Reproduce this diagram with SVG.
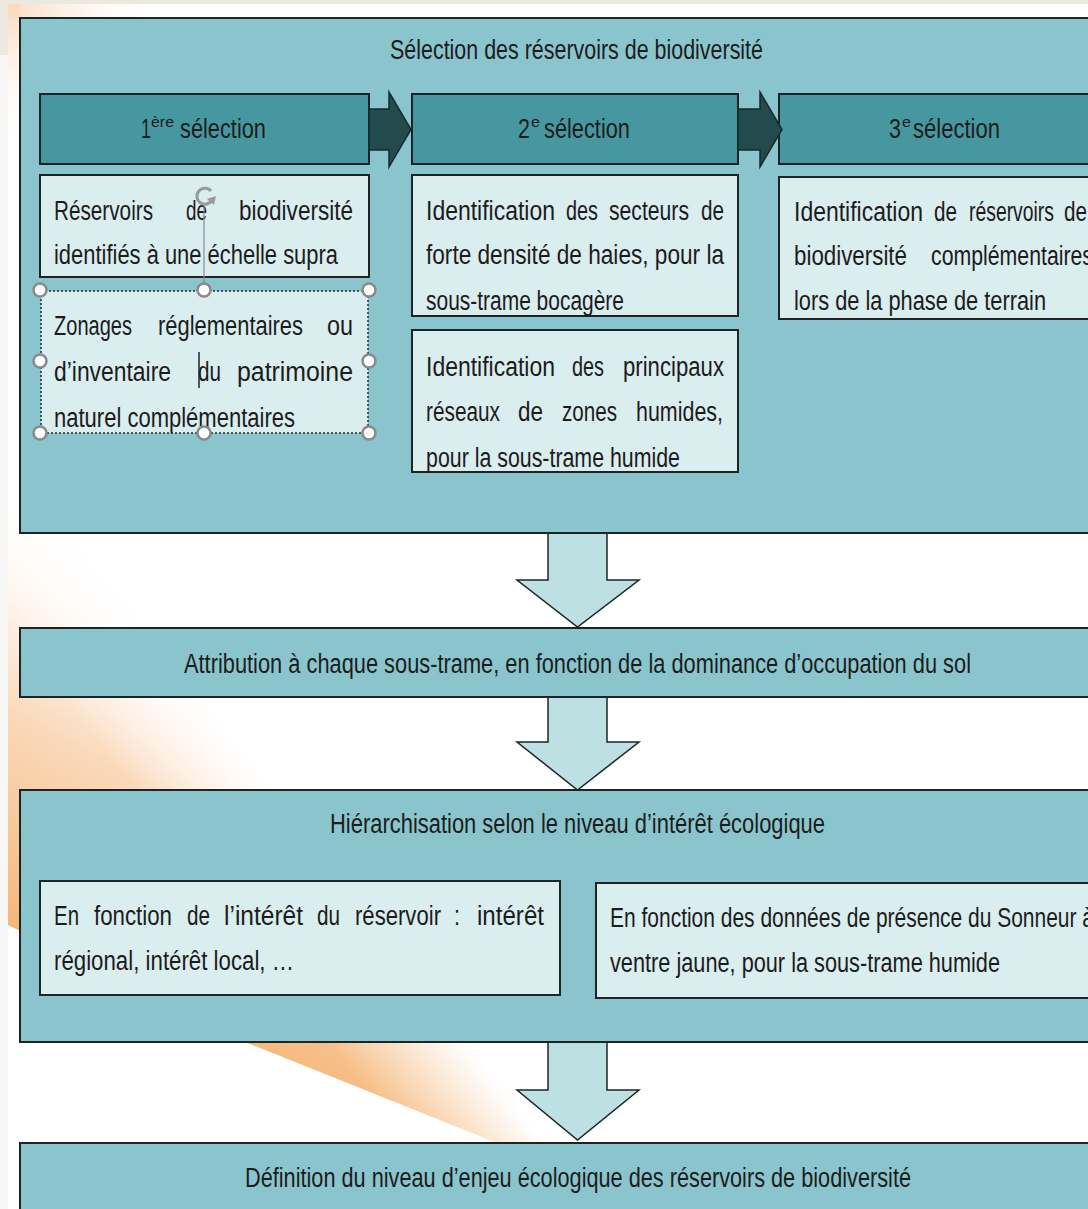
<svg xmlns="http://www.w3.org/2000/svg" width="1088" height="1209" viewBox="0 0 1088 1209">
<style>
.band{fill:#8ac5cd;stroke:#1e2424;stroke-width:2}
.hdr{fill:#4797a0;stroke:#1e2424;stroke-width:2}
.box{fill:#daedef;stroke:#1e2424;stroke-width:2}
.harrow{fill:#234b4e;stroke:#152b2d;stroke-width:1.5}
.varrow{fill:#bde0e3;stroke:#1e2424;stroke-width:1.5}
text{font-family:"Liberation Sans Narrow","Liberation Sans",Arial,sans-serif;font-size:27px;fill:#1c1c1c}
.sup{font-size:15px}
.handle{fill:#ffffff;stroke:#8a8a8a;stroke-width:2.5}
</style>
<defs>
<linearGradient id="ray" gradientUnits="userSpaceOnUse" x1="120" y1="1000" x2="330" y2="620">
<stop offset="0" stop-color="#f4b06c" stop-opacity="0.95"/>
<stop offset="0.45" stop-color="#f8cba0" stop-opacity="0.75"/>
<stop offset="1" stop-color="#ffffff" stop-opacity="0"/>
</linearGradient>
<linearGradient id="rayFade" gradientUnits="userSpaceOnUse" x1="467" y1="1042" x2="380" y2="1109">
<stop offset="0" stop-color="#000000"/>
<stop offset="1" stop-color="#ffffff"/>
</linearGradient>
<mask id="rayMask" maskUnits="userSpaceOnUse" x="0" y="0" width="1088" height="1209">
<rect x="0" y="0" width="1088" height="1209" fill="url(#rayFade)"/>
</mask>
<linearGradient id="peachV" x1="0" y1="0" x2="0" y2="1">
<stop offset="0" stop-color="#fbd9bb"/>
<stop offset="1" stop-color="#ffffff" stop-opacity="0"/>
</linearGradient>
<linearGradient id="peachH" x1="0" y1="0" x2="1" y2="0">
<stop offset="0" stop-color="#fbdcc2"/>
<stop offset="1" stop-color="#ffffff" stop-opacity="0"/>
</linearGradient>
</defs>

<!-- background -->
<rect x="0" y="0" width="1088" height="1209" fill="#ffffff"/>
<rect x="0" y="0" width="8" height="1209" fill="#f6f6f4"/>
<rect x="0" y="0" width="1088" height="4" fill="#ebe8de"/>
<rect x="0" y="0" width="8" height="55" fill="#ebe9e0"/>
<rect x="8" y="4" width="160" height="14" fill="url(#peachH)"/>
<rect x="8" y="4" width="12" height="140" fill="url(#peachV)"/>
<polygon points="8,515 45,495 545,1143 497,1143 245,1042 8,925" fill="url(#ray)" mask="url(#rayMask)"/>

<!-- connectors -->
<g id="connectors">
<polygon class="varrow" points="548,533 607,533 607,580 639,580 577.5,627 517,580 548,580"/>
<polygon class="varrow" points="548,697 607,697 607,742 639,742 577.5,790 517,742 548,742"/>
<polygon class="varrow" points="548,1042 607,1042 607,1090 639,1090 577.5,1140 517,1090 548,1090"/>
</g>

<g id="selection-band">
<rect class="band" x="20" y="18" width="1080" height="515"/>
<text x="390" y="59" textLength="373" lengthAdjust="spacingAndGlyphs">Sélection des réservoirs de biodiversité</text>
</g>

<g id="header-1">
<rect class="hdr" x="40" y="94" width="329" height="70"/>
<text x="141" y="138" textLength="10" lengthAdjust="spacingAndGlyphs">1</text>
<text class="sup" x="151" y="127" textLength="23" lengthAdjust="spacingAndGlyphs">ère</text>
<text x="180" y="138" textLength="86" lengthAdjust="spacingAndGlyphs">sélection</text>
</g>
<g id="header-2">
<rect class="hdr" x="412" y="94" width="326" height="70"/>
<text x="518" y="138" textLength="12" lengthAdjust="spacingAndGlyphs">2</text>
<text class="sup" x="531" y="127" textLength="9" lengthAdjust="spacingAndGlyphs">e</text>
<text x="544" y="138" textLength="86" lengthAdjust="spacingAndGlyphs">sélection</text>
</g>
<g id="header-3">
<rect class="hdr" x="779" y="94" width="320" height="70"/>
<text x="889" y="138" textLength="12" lengthAdjust="spacingAndGlyphs">3</text>
<text class="sup" x="902" y="127" textLength="9" lengthAdjust="spacingAndGlyphs">e</text>
<text x="913" y="138" textLength="87" lengthAdjust="spacingAndGlyphs">sélection</text>
</g>
<g id="header-arrows">
<polygon class="harrow" points="369,109 389,109 389,92 411,129.5 389,167 389,150 369,150"/>
<polygon class="harrow" points="738,109 760,109 760,92 782,129.5 760,167 760,150 738,150"/>
</g>

<g id="box-1a">
<rect class="box" x="40" y="175" width="329" height="102"/>
<text x="54" y="220" textLength="99" lengthAdjust="spacingAndGlyphs">Réservoirs</text>
<text x="186" y="220" textLength="21" lengthAdjust="spacingAndGlyphs">de</text>
<text x="239" y="220" textLength="114" lengthAdjust="spacingAndGlyphs">biodiversité</text>
<text x="54" y="264" textLength="284" lengthAdjust="spacingAndGlyphs">identifiés à une échelle supra</text>
</g>

<g id="box-1b">
<rect x="41" y="291" width="327" height="142" fill="#daedef"/>
<rect x="41" y="291" width="327" height="142" fill="none" stroke="#2a2a2a" stroke-width="1.5" stroke-dasharray="2,2"/>
<text x="54" y="335" textLength="78" lengthAdjust="spacingAndGlyphs">Zonages</text>
<text x="158" y="335" textLength="145" lengthAdjust="spacingAndGlyphs">réglementaires</text>
<text x="327" y="335" textLength="26" lengthAdjust="spacingAndGlyphs">ou</text>
<text x="54" y="381" textLength="117" lengthAdjust="spacingAndGlyphs">d’inventaire</text>
<text x="198" y="381" textLength="23" lengthAdjust="spacingAndGlyphs">du</text>
<text x="237" y="381" textLength="116" lengthAdjust="spacingAndGlyphs">patrimoine</text>
<text x="54" y="427" textLength="241" lengthAdjust="spacingAndGlyphs">naturel complémentaires</text>
<line x1="199" y1="352" x2="199" y2="388" stroke="#222" stroke-width="1.5"/>
<line x1="204" y1="206" x2="204" y2="290" stroke="#8a8a8a" stroke-width="1.2"/>
<path d="M211 191 A8 8 0 1 0 212 200" fill="none" stroke="#9a9a9a" stroke-width="3"/>
<polygon points="207,199 216,196 214,205" fill="#9a9a9a"/>
<circle class="handle" cx="40" cy="290" r="6.5"/>
<circle class="handle" cx="204" cy="290" r="6.5"/>
<circle class="handle" cx="369" cy="290" r="6.5"/>
<circle class="handle" cx="40" cy="361" r="6.5"/>
<circle class="handle" cx="369" cy="361" r="6.5"/>
<circle class="handle" cx="40" cy="433" r="6.5"/>
<circle class="handle" cx="204" cy="433" r="6.5"/>
<circle class="handle" cx="369" cy="433" r="6.5"/>
</g>

<g id="box-2a">
<rect class="box" x="412" y="175" width="326" height="141"/>
<text x="426" y="220" textLength="129" lengthAdjust="spacingAndGlyphs">Identification</text>
<text x="566" y="220" textLength="32" lengthAdjust="spacingAndGlyphs">des</text>
<text x="609" y="220" textLength="80" lengthAdjust="spacingAndGlyphs">secteurs</text>
<text x="701" y="220" textLength="23" lengthAdjust="spacingAndGlyphs">de</text>
<text x="426" y="264" textLength="298" lengthAdjust="spacingAndGlyphs">forte densité de haies, pour la</text>
<text x="426" y="310" textLength="198" lengthAdjust="spacingAndGlyphs">sous-trame bocagère</text>
</g>

<g id="box-2b">
<rect class="box" x="412" y="330" width="326" height="142"/>
<text x="426" y="376" textLength="129" lengthAdjust="spacingAndGlyphs">Identification</text>
<text x="572" y="376" textLength="32" lengthAdjust="spacingAndGlyphs">des</text>
<text x="623" y="376" textLength="101" lengthAdjust="spacingAndGlyphs">principaux</text>
<text x="426" y="421" textLength="74" lengthAdjust="spacingAndGlyphs">réseaux</text>
<text x="518" y="421" textLength="25" lengthAdjust="spacingAndGlyphs">de</text>
<text x="562" y="421" textLength="55" lengthAdjust="spacingAndGlyphs">zones</text>
<text x="636" y="421" textLength="87" lengthAdjust="spacingAndGlyphs">humides,</text>
<text x="426" y="467" textLength="254" lengthAdjust="spacingAndGlyphs">pour la sous-trame humide</text>
</g>

<g id="box-3">
<rect class="box" x="779" y="177" width="320" height="142"/>
<text x="794" y="221" textLength="129" lengthAdjust="spacingAndGlyphs">Identification</text>
<text x="934" y="221" textLength="23" lengthAdjust="spacingAndGlyphs">de</text>
<text x="969" y="221" textLength="85" lengthAdjust="spacingAndGlyphs">réservoirs</text>
<text x="1064" y="221" textLength="23" lengthAdjust="spacingAndGlyphs">de</text>
<text x="794" y="265" textLength="113" lengthAdjust="spacingAndGlyphs">biodiversité</text>
<text x="931" y="265" textLength="162" lengthAdjust="spacingAndGlyphs">complémentaires</text>
<text x="794" y="310" textLength="252" lengthAdjust="spacingAndGlyphs">lors de la phase de terrain</text>
</g>

<g id="attribution">
<rect class="band" x="20" y="628" width="1080" height="69"/>
<text x="184" y="673" textLength="787" lengthAdjust="spacingAndGlyphs">Attribution à chaque sous-trame, en fonction de la dominance d’occupation du sol</text>
</g>

<g id="hierarchisation">
<rect class="band" x="20" y="790" width="1080" height="252"/>
<text x="330" y="833" textLength="495" lengthAdjust="spacingAndGlyphs">Hiérarchisation selon le niveau d’intérêt écologique</text>
</g>

<g id="sub-left">
<rect class="box" x="40" y="881" width="520" height="114"/>
<text x="54" y="925" textLength="25" lengthAdjust="spacingAndGlyphs">En</text>
<text x="94" y="925" textLength="78" lengthAdjust="spacingAndGlyphs">fonction</text>
<text x="187" y="925" textLength="23" lengthAdjust="spacingAndGlyphs">de</text>
<text x="224" y="925" textLength="79" lengthAdjust="spacingAndGlyphs">l’intérêt</text>
<text x="317" y="925" textLength="23" lengthAdjust="spacingAndGlyphs">du</text>
<text x="355" y="925" textLength="86" lengthAdjust="spacingAndGlyphs">réservoir</text>
<text x="454" y="925" textLength="6" lengthAdjust="spacingAndGlyphs">:</text>
<text x="477" y="925" textLength="67" lengthAdjust="spacingAndGlyphs">intérêt</text>
<text x="54" y="970" textLength="240" lengthAdjust="spacingAndGlyphs">régional, intérêt local, …</text>
</g>

<g id="sub-right">
<rect class="box" x="596" y="883" width="500" height="115"/>
<text x="610" y="927" textLength="484" lengthAdjust="spacingAndGlyphs">En fonction des données de présence du Sonneur à</text>
<text x="610" y="972" textLength="390" lengthAdjust="spacingAndGlyphs">ventre jaune, pour la sous-trame humide</text>
</g>

<g id="definition">
<rect class="band" x="20" y="1143" width="1080" height="80"/>
<text x="245" y="1187" textLength="666" lengthAdjust="spacingAndGlyphs">Définition du niveau d’enjeu écologique des réservoirs de biodiversité</text>
</g>
</svg>
